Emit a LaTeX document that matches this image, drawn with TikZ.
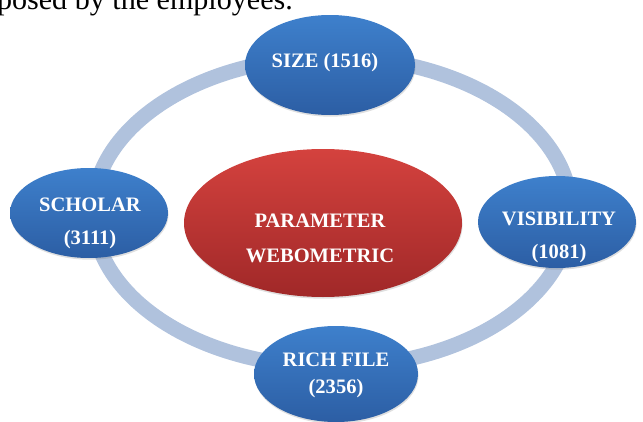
\documentclass[tikz,border=0pt]{standalone}
\usepackage{fontspec}
\setmainfont{Liberation Serif}
\usetikzlibrary{shapes.geometric,shadows}
\definecolor{ringblue}{RGB}{176,194,221}
\definecolor{bubbletop}{RGB}{62,128,204}
\definecolor{bubblebot}{RGB}{44,94,164}
\definecolor{coretop}{RGB}{212,66,62}
\definecolor{corebot}{RGB}{160,40,40}

\begin{document}
\begin{tikzpicture}[
  bubble/.style={ellipse, draw=none, inner sep=0pt, top color=bubbletop, bottom color=bubblebot,
    drop shadow={opacity=0.25, shadow xshift=0.4pt, shadow yshift=-1.2pt}},
  core/.style={bubble, top color=coretop, bottom color=corebot},
  bubbletext/.style={text=white, inner sep=0pt, align=center,
    font=\fontsize{14.6}{23.5}\selectfont\bfseries}
]
  \useasboundingbox (0,0) rectangle (16.075,10.525);
  % running text of the page
  \node[anchor=base west, inner sep=0pt, font=\fontsize{21.4}{25}\selectfont] (pagetext) at (-0.08,10.28) {posed by the employees.};
  % ring behind the bubbles
  \draw[ringblue, line width=0.375cm] (8.3,5.225) ellipse [x radius=5.975, y radius=3.875];
  % bubbles
  \node[bubble, minimum width=4.25cm, minimum height=2.5cm] (size) at (8.25,8.9) {};
  \node[bubble, minimum width=3.95cm, minimum height=2.25cm] (scholar) at (2.225,5.2) {};
  \node[bubble, minimum width=3.95cm, minimum height=2.3cm] (visibility) at (13.925,4.975) {};
  \node[bubble, minimum width=4.1cm, minimum height=2.4cm] (richfile) at (8.4,1.175) {};
  \node[core, minimum width=6.95cm, minimum height=3.7cm] (webometric) at (8.075,4.95) {};
  % labels
  \node[bubbletext] (sizetext) at (8.125,8.95) {SIZE (1516)};
  \node[bubbletext] (scholartext) at (2.25,4.95) {SCHOLAR\\(3111)};
  \node[bubbletext] (visibilitytext) at (13.975,4.6) {VISIBILITY\\(1081)};
  \node[bubbletext, font=\fontsize{14.6}{19.2}\selectfont\bfseries] (richfiletext) at (8.4,1.15) {RICH FILE\\(2356)};
  \node[bubbletext, font=\fontsize{14.6}{24.9}\selectfont\bfseries] (webometrictext) at (8.0,4.575) {PARAMETER\\WEBOMETRIC};
\end{tikzpicture}
\end{document}
